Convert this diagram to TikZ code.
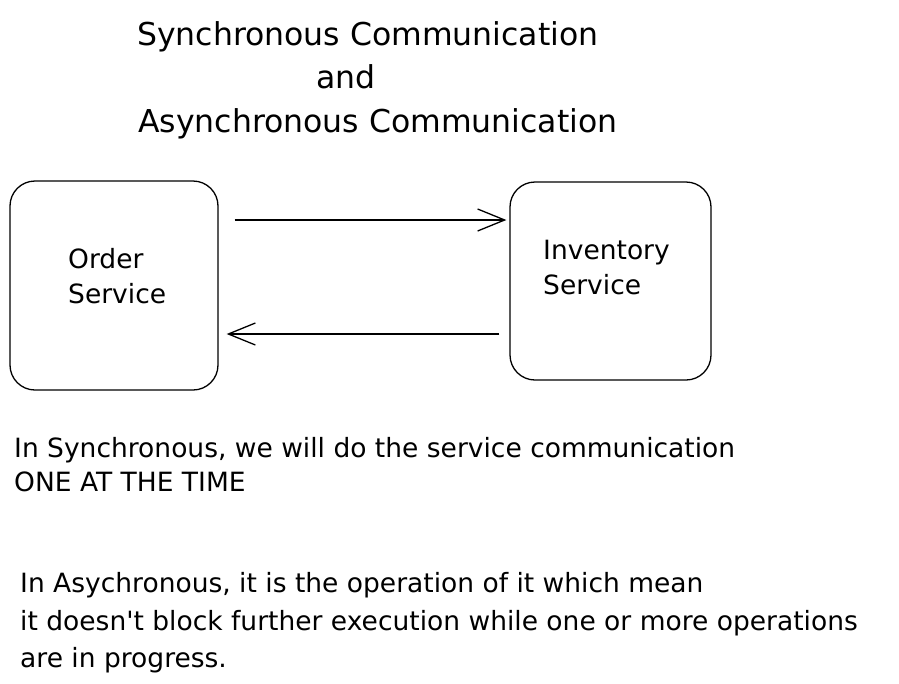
\documentclass[tikz,border=0pt]{standalone}
\usepackage{fontspec}
\setmainfont{DejaVu Sans}
\usetikzlibrary{arrows.meta}
\tikzset{
  box/.style={draw, line width=1.3pt, rounded corners=25pt, inner sep=0pt},
  conn/.style={line width=1.3pt, -{Straight Barb[length=27pt,width=22pt,line width=1.3pt]}},
  txt/.style={anchor=base west, inner sep=0pt, font=\fontsize{26.5}{30}\selectfont},
  ttl/.style={anchor=base west, inner sep=0pt, font=\fontsize{31.5}{36}\selectfont},
}
\begin{document}
\begin{tikzpicture}[x=1pt,y=-1pt]
\useasboundingbox (0,0) rectangle (899,683);
% title
\node[ttl] (t1) at (137,45) {Synchronous Communication};
\node[ttl] (t2) at (316,88) {and};
\node[ttl] (t3) at (138,132) {Asynchronous Communication};
% boxes
\node[box, minimum width=208pt, minimum height=209pt] (order) at (114,285.5) {};
\node[box, minimum width=201pt, minimum height=198pt] (inv) at (610.5,281) {};
\node[txt] (o1) at (68,268) {Order};
\node[txt] (o2) at (68,303) {Service};
\node[txt] (i1) at (543,259) {Inventory};
\node[txt] (i2) at (543,294) {Service};
% connectors
\draw[conn] ([xshift=16pt,yshift=65.5pt]order.east) -- ([xshift=-3pt,yshift=61pt]inv.west);
\draw[conn] ([xshift=-10pt,yshift=-53pt]inv.west) -- ([xshift=8pt,yshift=-48.5pt]order.east);
% paragraphs
\node[txt] (p1) at (14,457) {In Synchronous, we will do the service communication};
\node[txt] (p2) at (14,491) {ONE AT THE TIME};
\node[txt] (q1) at (20,592) {In Asychronous, it is the operation of it which mean};
\node[txt] (q2) at (20,630) {it doesn\textquotesingle t block further execution while one or more operations};
\node[txt] (q3) at (20,667) {are in progress.};
\end{tikzpicture}
\end{document}
